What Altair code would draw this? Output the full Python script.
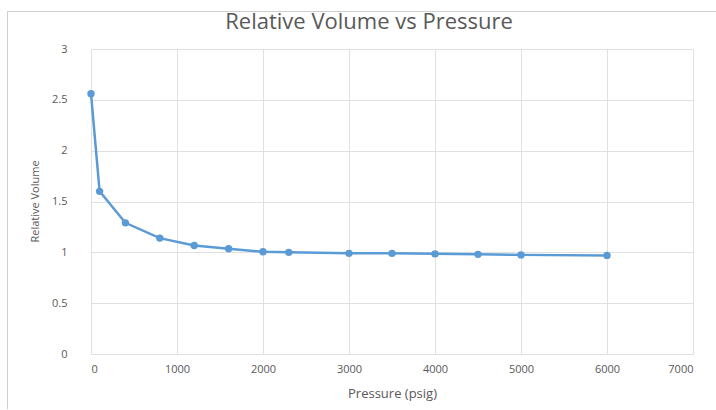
import altair as alt
import pandas as pd

pressure = [0, 100, 400, 800, 1200, 1600, 2000, 2300, 3000, 3500, 4000, 4500, 5000, 6000]
rel_volume = [2.56, 1.60, 1.29, 1.14, 1.067, 1.035, 1.005, 1.0, 0.99, 0.99, 0.985, 0.98, 0.975, 0.97]

df = pd.DataFrame({"Pressure": pressure, "RelVol": rel_volume})

FONT = "Open Sans"
GRAY = "#595959"
BLUE = "#5b9bd5"

base = alt.Chart(df)

line = base.mark_line(color=BLUE, strokeWidth=2.5).encode(
    x=alt.X("Pressure:Q",
            scale=alt.Scale(domain=[0, 7000], nice=False),
            axis=alt.Axis(title="Pressure (psig)", values=list(range(0, 7001, 1000)),
                          format="d", ticks=False, domain=False, labelPadding=9,
                          labelFontSize=11, labelColor=GRAY, labelFont=FONT,
                          titleFont=FONT, titleFontSize=13, titleColor=GRAY,
                          titleFontWeight="normal", titleY=39, titleBaseline="middle",
                          gridColor="#e0e0e0", gridWidth=1)),
    y=alt.Y("RelVol:Q",
            scale=alt.Scale(domain=[0, 3], nice=False),
            axis=alt.Axis(title="Relative Volume", values=[0, 0.5, 1, 1.5, 2, 2.5, 3],
                          format="~g",
                          ticks=False, domain=False, labelPadding=24,
                          labelFontSize=11, labelColor=GRAY, labelFont=FONT,
                          titleFont=FONT, titleFontSize=11, titleColor=GRAY,
                          titleFontWeight="normal", titleX=-56, titleY=152,
                          titleAngle=-90, titleBaseline="middle",
                          gridColor="#e0e0e0", gridWidth=1)),
)
points = base.mark_point(filled=True, color=BLUE, size=55, opacity=1).encode(
    x="Pressure:Q", y="RelVol:Q"
)

border_left = alt.Chart(pd.DataFrame({"a": [0]})).mark_rule(color="#cfcfcf", strokeWidth=1).encode(
    x=alt.value(-83.5), y=alt.value(-38), y2=alt.value(360)
)
border_top = alt.Chart(pd.DataFrame({"a": [0]})).mark_rule(color="#cfcfcf", strokeWidth=1).encode(
    x=alt.value(-84), x2=alt.value(630), y=alt.value(-37.5)
)

chart = alt.layer(border_left, border_top, line, points).properties(
    width=602,
    height=305,
    autosize=alt.AutoSizeParams(type="none"),
    padding={"left": 91, "top": 49, "right": 23, "bottom": 56},
    background="white",
    title=alt.TitleParams("Relative Volume vs Pressure", font=FONT, fontSize=22,
                          color=GRAY, fontWeight="normal", anchor="middle",
                          dx=-23, offset=0, dy=23),
).configure_view(stroke=None)

chart.save("out.html", embed_options={"renderer": "svg", "actions": False})
